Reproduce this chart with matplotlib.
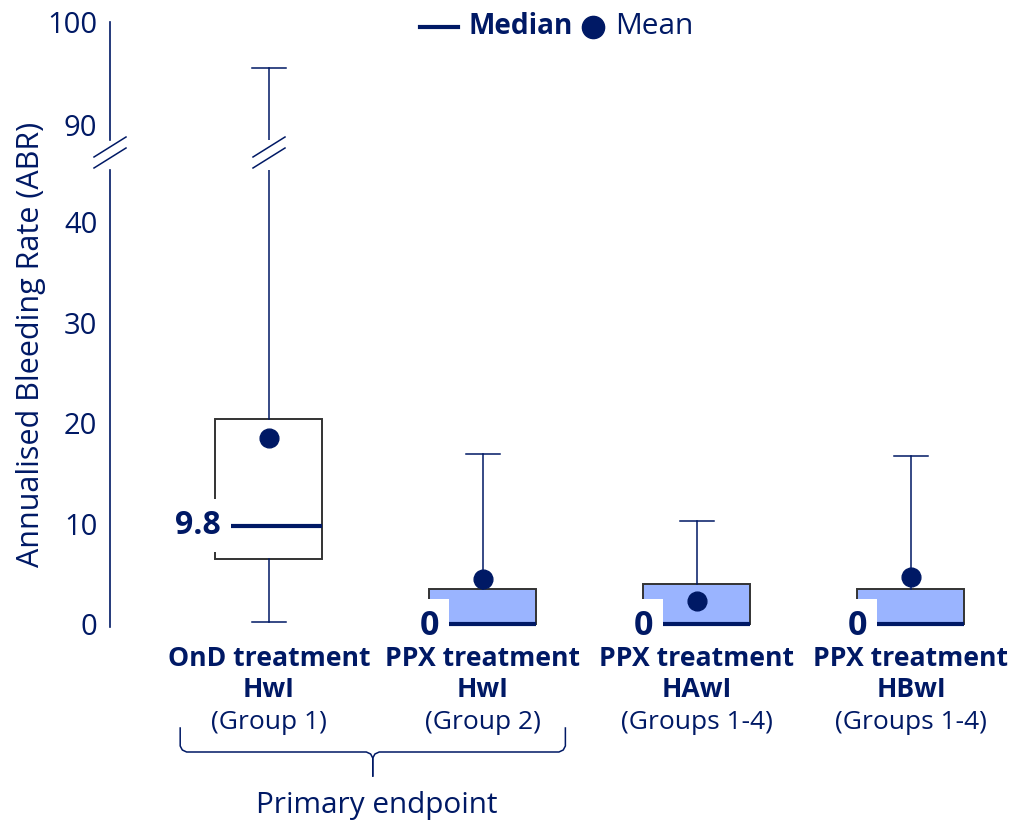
import matplotlib
matplotlib.use("Agg")
import matplotlib.pyplot as plt
import matplotlib.transforms as mtransforms
from matplotlib.lines import Line2D

plt.rcParams['font.family'] = ['Open Sans', 'Noto Sans', 'DejaVu Sans']

# data
positions = [0, 1, 2, 3]
labels_bold = ["OnD treatment\nHwI", "PPX treatment\nHwI", "PPX treatment\nHAwI", "PPX treatment\nHBwI"]
labels_sub = ["(Group 1)", "(Group 2)", "(Groups 1-4)", "(Groups 1-4)"]
q1 = [6.5, 0, 0, 0]
median = [9.8, 0, 0, 0]
q3 = [20.4, 3.5, 4.0, 3.5]
mean = [18.5, 4.5, 2.3, 4.7]
whislo = [0.2, 0, 0, 0]
whishi = [95.5, 16.9, 10.3, 16.7]
median_labels = ["9.8", "0", "0", "0"]
low_ticks = [0, 10, 20, 30, 40]
top_ticks = [90, 100]

NAVY = '#001965'
FILLS = ['white', '#9AB4FF', '#9AB4FF', '#9AB4FF']

W, H = 1012, 823
fig = plt.figure(figsize=(W / 100, H / 100), dpi=100)


def px_rect(left, top, right, bottom):
    return [left / W, 1 - bottom / H, (right - left) / W, (bottom - top) / H]


def fx(px):
    return px / W


def fy(py):
    return 1 - py / H


ax_low = fig.add_axes(px_rect(110, 170, 1000, 627))
ax_top = fig.add_axes(px_rect(110, 22, 1000, 140))

stats = []
for i in range(len(positions)):
    stats.append(dict(q1=q1[i], med=median[i], q3=q3[i], whislo=whislo[i],
                      whishi=whishi[i], mean=mean[i]))

for ax in (ax_low, ax_top):
    bp = ax.bxp(stats, positions=positions, widths=0.5, capwidths=0.155,
                patch_artist=True, showmeans=True, showfliers=False,
                boxprops=dict(edgecolor='#333333', linewidth=1.4),
                medianprops=dict(color=NAVY, linewidth=3),
                whiskerprops=dict(color=NAVY, linewidth=1.1),
                capprops=dict(color=NAVY, linewidth=1.1),
                meanprops=dict(marker='o', markerfacecolor=NAVY,
                               markeredgecolor=NAVY, markersize=13.5))
    for patch, fc in zip(bp['boxes'], FILLS):
        patch.set_facecolor(fc)
    ax.set_xlim(-0.743, 3.416)
    for s in ['top', 'right', 'bottom']:
        ax.spines[s].set_visible(False)
    ax.spines['left'].set_color(NAVY)
    ax.spines['left'].set_linewidth(1.2)
    ax.tick_params(axis='y', length=0, pad=9, labelsize=21, labelcolor=NAVY)
    ax.tick_params(axis='x', length=0, labelbottom=False)
    ax.set_xticks([])

ax_low.set_ylim(-0.3, 45.2)
ax_low.set_yticks(low_ticks)
ax_top.set_ylim(88.5, 100)
ax_top.set_yticks(top_ticks)

# median labels
for i, p in enumerate(positions):
    if i == 0:
        ax_low.annotate(median_labels[i], xy=(p - 0.25, median[i]), xytext=(4, 0),
                        textcoords='offset points', ha='right', va='center',
                        fontsize=23, fontweight='bold', color=NAVY,
                        bbox=dict(boxstyle='square,pad=0.3', fc='white', ec='none'))
    else:
        ax_low.annotate(median_labels[i], xy=(p - 0.25, median[i]), xytext=(0, -1.5),
                        textcoords='offset points', ha='center', va='center',
                        fontsize=24.5, fontweight='bold', color=NAVY,
                        bbox=dict(boxstyle='square,pad=0.3', fc='white', ec='none'))

# category labels
for i, p in enumerate(positions):
    ax_low.annotate(labels_bold[i], xy=(p, 0), xycoords=('data', 'axes fraction'),
                    xytext=(0, -13.5), textcoords='offset points', ha='center', va='top',
                    fontsize=19.2, fontweight='bold', color=NAVY, linespacing=1.24)
    ax_low.annotate(labels_sub[i], xy=(p, 0), xycoords=('data', 'axes fraction'),
                    xytext=(0, -69), textcoords='offset points', ha='center', va='center',
                    fontsize=19, color=NAVY)

# axis break marks
def draw_break(xpx):
    for yc in (147, 158):
        fig.add_artist(Line2D([fx(xpx - 16), fx(xpx + 16)], [fy(yc + 10), fy(yc - 10)],
                              transform=fig.transFigure, color=NAVY, lw=1.1))

draw_break(110)
draw_break(ax_low.transData.transform((positions[0], 0))[0])

# bracket under primary endpoint groups
trans = mtransforms.blended_transform_factory(ax_low.transData, fig.transFigure)
xl = positions[0] - 0.415
xr = positions[1] + 0.385
xc = (xl + xr) / 2
ys = [728, 746, 750, 752, 752, 754, 758, 776]
xs_left = [xl, xl, xl + 0.01, xl + 0.03, xc - 0.03, xc - 0.01, xc, xc]
xs_right = [xr, xr, xr - 0.01, xr - 0.03, xc + 0.03, xc + 0.01, xc, xc]
for xs in (xs_left, xs_right):
    ax_low.plot(xs, [fy(y) for y in ys], transform=trans, color=NAVY,
                lw=1.1, clip_on=False)
fig.text(fx(377), fy(805), "Primary endpoint", ha='center', va='center',
         fontsize=21.4, color=NAVY)

# y label
fig.text(fx(31), fy(344), "Annualised Bleeding Rate (ABR)", rotation=90,
         ha='center', va='center', fontsize=22, color=NAVY)

# legend (drawn by hand: bold / regular mixed)
fig.add_artist(Line2D([fx(420), fx(458)], [fy(27), fy(27)], transform=fig.transFigure,
                      color=NAVY, lw=3))
fig.text(fx(469), fy(27), "Median", ha='left', va='center', fontsize=20.2,
         fontweight='bold', color=NAVY)
fig.add_artist(Line2D([fx(593)], [fy(27)], transform=fig.transFigure, marker='o',
                      ls='none', markersize=16, markerfacecolor=NAVY,
                      markeredgecolor=NAVY))
fig.text(fx(615), fy(27), "Mean", ha='left', va='center', fontsize=21.5, color=NAVY)

fig.savefig('out.png', dpi=100)
